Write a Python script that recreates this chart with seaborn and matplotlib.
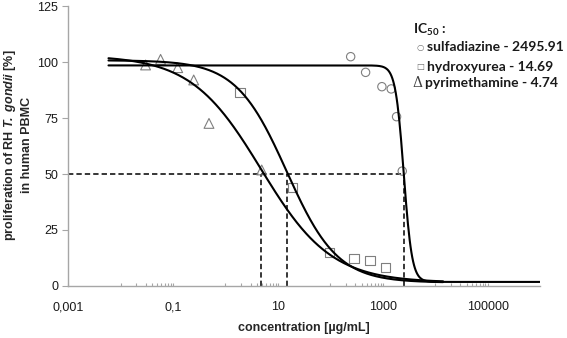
#!/usr/bin/env python3
# dose-response of RH T. gondii proliferation in human PBMC
import numpy as np
import pandas as pd
import matplotlib
matplotlib.use('Agg')
import matplotlib.pyplot as plt
import seaborn as sns
from matplotlib.ticker import FixedLocator, NullFormatter

sulfa_conc = [243, 468, 956, 1440, 1820, 2335]
sulfa_prol = [102.4, 95.4, 89.0, 88.0, 75.6, 51.3]
hydroxy_conc = [1.89, 19.1, 94.8, 280, 565, 1107]
hydroxy_prol = [86.3, 43.9, 14.9, 12.1, 11.3, 8.2]
pyri_conc = [0.030, 0.058, 0.123, 0.248, 0.485, 4.9]
pyri_prol = [98.7, 101.2, 97.5, 92.0, 72.6, 51.8]

# fitted 4-parameter logistic curves
drugs = ['sulfadiazine', 'hydroxyurea', 'pyrimethamine']
ic50 = [2495.91, 14.69, 4.74]
fit_top = [98.5, 100.8, 103.0]
fit_bottom = [1.8, 1.5, 1.5]
fit_hill = [5.5, 0.9, 0.65]
fit_start = [0.0059, 0.0059, 0.0059]
fit_end = [1e6, 1.4e4, 1.4e4]

xtick_vals = [1e-3, 1e-1, 10, 1e3, 1e5]
xtick_labels = ['0,001', '0,1', '10', '1000', '100000']
ytick_vals = [0, 25, 50, 75, 100, 125]

#build tables
pts = pd.DataFrame({
    'conc': sulfa_conc + hydroxy_conc + pyri_conc,
    'prol': sulfa_prol + hydroxy_prol + pyri_prol,
    'drug': ['sulfadiazine'] * 6 + ['hydroxyurea'] * 6 + ['pyrimethamine'] * 6,
})
rows = []
for d, top, bot, c50, h, x0, x1 in zip(drugs, fit_top, fit_bottom, ic50, fit_hill, fit_start, fit_end):
    x = np.logspace(np.log10(x0), np.log10(x1), 500)
    y = bot + (top - bot) / (1 + (x / c50) ** h)
    rows.append(pd.DataFrame({'conc': x, 'prol': y, 'drug': d}))
curves = pd.concat(rows, ignore_index=True)

sns.set_style('ticks')
plt.rcParams['font.family'] = ['Liberation Sans', 'DejaVu Sans']
plt.rcParams['mathtext.fontset'] = 'custom'
plt.rcParams['mathtext.rm'] = 'Lato:bold'
plt.rcParams['mathtext.bf'] = 'Lato:bold'
plt.rcParams['mathtext.it'] = 'Liberation Sans:italic'
plt.rcParams['mathtext.bfit'] = 'Liberation Sans:italic:bold'

fig, ax = plt.subplots(figsize=(5.67, 3.38), dpi=100)
fig.subplots_adjust(left=0.120, right=0.953, bottom=0.154, top=0.982)

gray = '#7f7f7f'
markers = {'sulfadiazine': 'o', 'hydroxyurea': 's', 'pyrimethamine': '^'}
sizes = {'sulfadiazine': 36, 'hydroxyurea': 44, 'pyrimethamine': 50}
for d in drugs:
    sub = pts[pts['drug'] == d]
    sns.scatterplot(data=sub, x='conc', y='prol', marker=markers[d], s=sizes[d],
                    facecolor='none', edgecolor=gray, linewidth=0.8, ax=ax, zorder=3)

sns.lineplot(data=curves, x='conc', y='prol', units='drug', estimator=None, sort=False,
             color='black', linewidth=1.5, ax=ax, zorder=4)

#IC50 guide lines
dash = (0, (3.5, 2))
ax.plot([1e-3, ic50[0]], [50, 50], color='black', lw=1.1, ls=dash, zorder=2)
for c in ic50:
    ax.plot([c, c], [0, 50], color='black', lw=1.1, ls=dash, zorder=2)

ax.set_xscale('log')
ax.set_xlim(1e-3, 1e6)
ax.set_ylim(0, 125)
ax.xaxis.set_major_locator(FixedLocator(xtick_vals))
ax.set_xticklabels(xtick_labels)
minor = [m * 10.0 ** k for k in (-2, 0, 2, 4) for m in range(1, 10)]
ax.xaxis.set_minor_locator(FixedLocator(minor))
ax.xaxis.set_minor_formatter(NullFormatter())
ax.set_yticks(ytick_vals)

spine_col = '#a6a6a6'
ax.spines[['top', 'right']].set_visible(False)
ax.spines[['left', 'bottom']].set_color(spine_col)
ax.spines[['left', 'bottom']].set_linewidth(1.0)
ax.tick_params(axis='x', which='both', direction='in', length=2.5, width=0.8,
               color=spine_col, pad=11, labelsize=9, labelcolor='#1a1a1a')
ax.tick_params(axis='y', direction='out', length=4, width=0.8,
               color=spine_col, pad=3, labelsize=9, labelcolor='#1a1a1a')

ax.set_xlabel('concentration [µg/mL]', fontsize=9, fontweight='bold', labelpad=6)
ax.set_ylabel('')
fig.text(17.5 / 567, 0.571,
         'proliferation of RH $\\mathbfit{T.\\ gondii}$ [%]\nin human PBMC',
         rotation=90, ha='center', va='center', fontsize=9, fontweight='bold',
         linespacing=1.3)

#IC50 legend block
lg = dict(family=['Lato', 'DejaVu Sans'], fontweight='bold', fontsize=10,
          color='#1a1a1a', va='center', transform=fig.transFigure)
fig.text(413 / 567, 1 - 30 / 338, 'IC$_{50}$ :', **lg)
fig.text(427 / 567, 1 - 47.3 / 338, 'sulfadiazine - 2495.91', **lg)
fig.text(427 / 567, 1 - 66.7 / 338, 'hydroxyurea - 14.69', **lg)
fig.text(425 / 567, 1 - 83.3 / 338, 'pyrimethamine - 4.74', **lg)
fig.text(419.7 / 567, 1 - 47.3 / 338, '○', family='DejaVu Sans', fontsize=6,
         color='#6f6f6f', ha='center', va='center')
fig.text(420 / 567, 1 - 66.7 / 338, '□', family='DejaVu Sans', fontsize=6,
         color='#6f6f6f', ha='center', va='center')
fig.text(417 / 567, 1 - 83.3 / 338, 'Δ', family='DejaVu Serif', fontsize=10,
         color='#404040', ha='center', va='center')

plt.savefig('out.png', dpi=100)
